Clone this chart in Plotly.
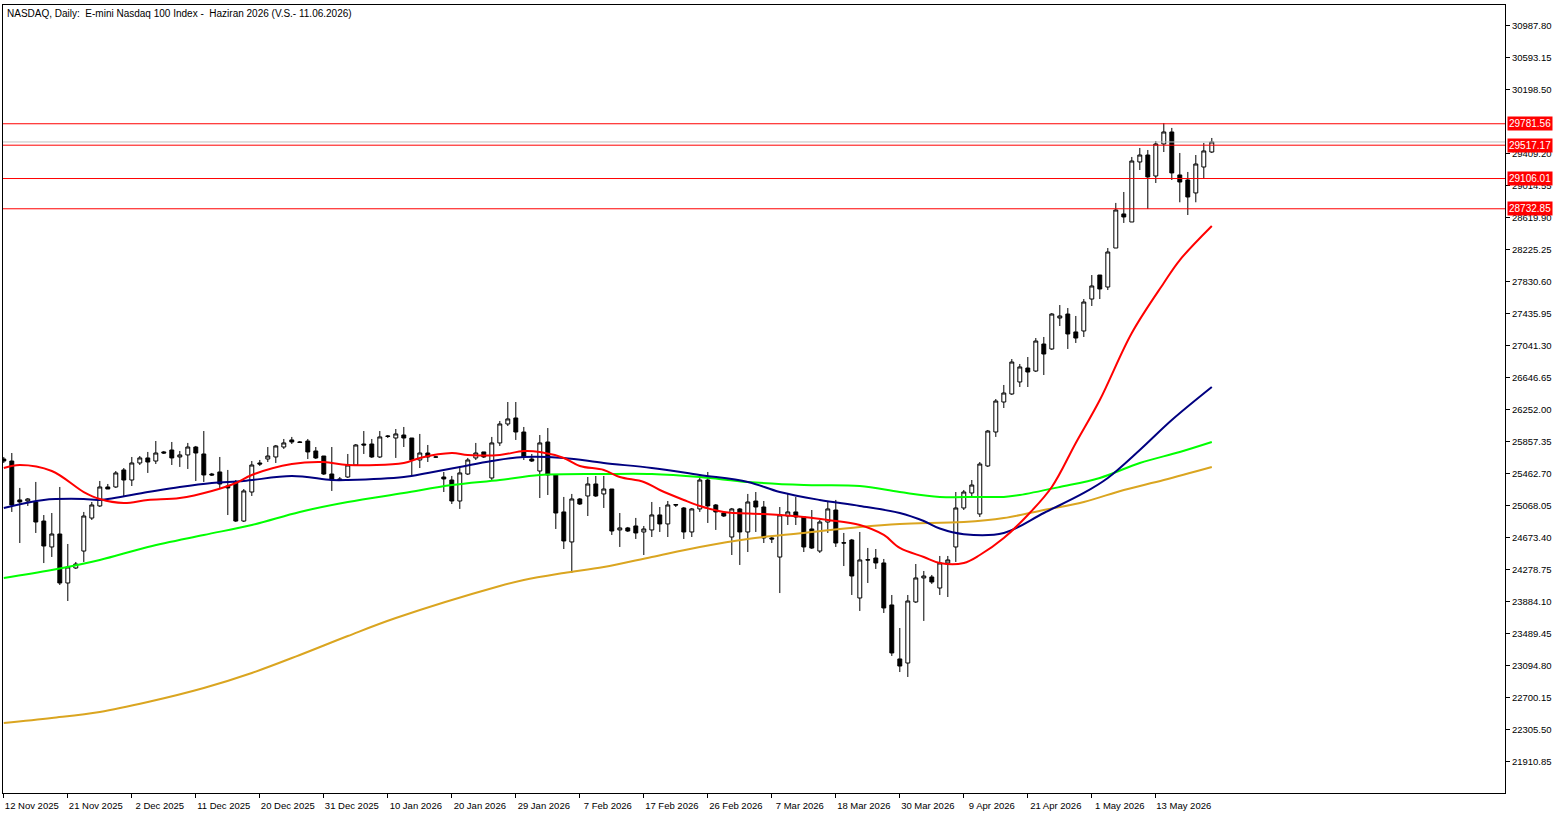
import plotly.graph_objects as go

TITLE = "NASDAQ, Daily:  E-mini Nasdaq 100 Index -  Haziran 2026 (V.S.- 11.06.2026)"

# daily OHLC, bar index 0 = 12 Nov 2025
opens = [25647, 25622, 25142, 25129, 25117, 24882, 24562, 24722, 24118, 24303,
         24512, 24919, 25068, 25302, 25302, 25512, 25388, 25598, 25660, 25622,
         25734, 25758, 25672, 25697, 25795, 25709, 25462, 25487, 25314, 25364,
         24882, 25240, 25598, 25647, 25672, 25795, 25882, 25857, 25869, 25746,
         25684, 25462, 25401, 25425, 25573, 25832, 25832, 25672, 25931, 25906,
         25943, 25906, 25635, 25721, 25670, 25425, 25388, 25129, 25462, 25660,
         25734, 25413, 25845, 26079, 26153, 25980, 25647, 25499, 25857, 25450,
         24994, 24624, 25154, 25191, 25339, 25216, 25277, 24772, 24797, 24821,
         24747, 24772, 24957, 24846, 25085, 25043, 24747, 25031, 25388, 25080,
         24981, 24685, 25031, 24747, 25129, 25055, 24673, 24438, 24944, 24994,
         24932, 24784, 24512, 24870, 25018, 24614, 24648, 23933, 24405, 24426,
         24365, 23847, 23181, 23131, 23884, 24180, 24192, 24056, 24365, 24562,
         25043, 25228, 24969, 25561, 25980, 26350, 26449, 26597, 26769, 26732,
         27065, 27004, 27386, 27435, 27214, 27226, 27620, 27916, 27768, 28249,
         28669, 28570, 29310, 29396, 29137, 29532, 29680, 29150, 29088, 28928,
         29248, 29433]
highs = [25672, 25721, 25290, 25166, 25364, 24956, 24981, 25302, 24599, 24377,
         24994, 25117, 25376, 25339, 25499, 25536, 25672, 25684, 25734, 25869,
         25746, 25857, 25746, 25845, 25808, 25992, 25475, 25672, 25512, 25388,
         25277, 25622, 25635, 25795, 25820, 25894, 25919, 25869, 25894, 25795,
         25684, 25795, 25425, 25709, 25832, 25992, 25894, 25992, 25943, 26017,
         26042, 25906, 25956, 25820, 25684, 25487, 25438, 25561, 25660, 25845,
         25734, 25919, 26116, 26350, 26350, 26042, 25709, 25943, 26029, 25450,
         25179, 25216, 25166, 25425, 25438, 25438, 25277, 24981, 24809, 24920,
         24821, 25117, 25055, 25129, 25092, 25055, 25043, 25413, 25487, 25092,
         24994, 25043, 25043, 25216, 25240, 25129, 24685, 25055, 25216, 25179,
         24932, 25018, 24895, 25117, 25142, 24735, 24661, 24747, 24550, 24537,
         24414, 23970, 23563, 23970, 24352, 24266, 24217, 24451, 24451, 25240,
         25265, 25388, 25610, 26005, 26387, 26560, 26880, 26819, 26905, 27139,
         27152, 27447, 27546, 27509, 27411, 27620, 27916, 27916, 28249, 28805,
         28940, 29372, 29483, 29458, 29569, 29790, 29730, 29421, 29187, 29396,
         29545, 29606]
lows = [25598, 24994, 24611, 25068, 24735, 24364, 24439, 24093, 23896, 24291,
        24377, 24895, 25055, 25277, 25290, 25191, 25314, 25573, 25475, 25585,
        25709, 25573, 25549, 25524, 25376, 25364, 25438, 25290, 24956, 24870,
        24870, 25191, 25561, 25610, 25598, 25771, 25832, 25845, 25647, 25647,
        25450, 25253, 25376, 25413, 25573, 25709, 25660, 25660, 25906, 25660,
        25795, 25438, 25536, 25610, 25660, 25240, 25092, 25031, 25450, 25635,
        25660, 25388, 25808, 26054, 25882, 25635, 25610, 25166, 25203, 24784,
        24537, 24241, 25080, 24944, 25179, 25043, 24710, 24562, 24747, 24661,
        24463, 24685, 24747, 24685, 25055, 24661, 24685, 24994, 24858, 24772,
        24932, 24463, 24340, 24500, 24747, 24611, 24611, 23994, 24833, 24833,
        24500, 24537, 24488, 24735, 24562, 24327, 23970, 23773, 24118, 24291,
        23748, 23218, 23020, 22959, 23872, 23650, 24106, 23970, 23945, 24377,
        25018, 25179, 24932, 25549, 25919, 26276, 26437, 26535, 26535, 26720,
        26683, 26992, 27287, 27004, 27078, 27152, 27534, 27620, 27731, 28249,
        28558, 28570, 29211, 28730, 29051, 29433, 29088, 28813, 28656, 28813,
        29101, 29421]
closes = [25622, 25080, 25117, 25154, 24870, 24574, 24722, 24118, 24315, 24352,
          24944, 25080, 25302, 25277, 25475, 25388, 25598, 25660, 25610, 25721,
          25721, 25660, 25697, 25795, 25721, 25450, 25450, 25339, 25290, 24882,
          25253, 25573, 25585, 25684, 25808, 25845, 25857, 25852, 25734, 25660,
          25462, 25388, 25388, 25573, 25820, 25820, 25672, 25919, 25926, 25956,
          25906, 25635, 25721, 25672, 25672, 25401, 25129, 25475, 25635, 25721,
          25672, 25845, 26079, 26141, 25980, 25672, 25622, 25845, 25450, 24981,
          24636, 25154, 25092, 25339, 25191, 25277, 24759, 24797, 24759, 24735,
          24784, 24957, 24846, 25080, 25080, 24747, 25031, 25388, 25068, 24994,
          24944, 25031, 24747, 25117, 25055, 24673, 24661, 24957, 24994, 24932,
          24562, 24549, 24870, 25031, 24611, 24611, 24204, 24402, 24402, 24365,
          23810, 23255, 23094, 23896, 24180, 24204, 24130, 24365, 24402, 25043,
          25240, 25326, 25585, 25992, 26362, 26461, 26843, 26782, 26720, 27102,
          26942, 27435, 27411, 27189, 27139, 27583, 27781, 27744, 28200, 28718,
          28632, 29322, 29396, 29125, 29532, 29680, 29175, 29063, 28878, 29285,
          29446, 29557]

date_labels = ["12 Nov 2025", "21 Nov 2025", "2 Dec 2025", "11 Dec 2025", "20 Dec 2025",
               "31 Dec 2025", "10 Jan 2026", "20 Jan 2026", "29 Jan 2026", "7 Feb 2026",
               "17 Feb 2026", "26 Feb 2026", "7 Mar 2026", "18 Mar 2026", "30 Mar 2026",
               "9 Apr 2026", "21 Apr 2026", "1 May 2026", "13 May 2026"]

# moving averages, read at sample bars
ma_red_x = [0, 2, 6, 10, 12, 15, 18, 22, 26, 29, 31, 36, 40, 43, 50, 52, 56, 58, 62, 65,
            67, 70, 72, 75, 77, 80, 82, 85, 87, 90, 95, 100, 103, 107, 110, 112, 115, 117,
            120, 122, 125, 128, 131, 134, 137, 141, 145, 147, 151]
ma_red_y = [25536, 25573, 25499, 25240, 25154, 25105, 25142, 25166, 25253, 25351, 25450,
            25585, 25610, 25573, 25598, 25660, 25721, 25697, 25697, 25746, 25734, 25660,
            25561, 25512, 25425, 25364, 25265, 25142, 25068, 24994, 24969, 24932, 24895,
            24833, 24710, 24550, 24439, 24365, 24365, 24463, 24673, 24957, 25302, 25845,
            26375, 27202, 27818, 28101, 28521]
ma_navy_x = [0, 5, 10, 12, 18, 22, 26, 30, 36, 41, 43, 50, 53, 57, 61, 65, 70, 75, 81, 87,
             93, 97, 102, 107, 112, 115, 117, 120, 125, 130, 135, 138, 142, 146, 151]
ma_navy_y = [25043, 25142, 25154, 25142, 25240, 25302, 25351, 25376, 25437, 25388, 25388,
             25425, 25475, 25549, 25622, 25672, 25660, 25598, 25536, 25450, 25364, 25240,
             25142, 25068, 24981, 24882, 24790, 24720, 24735, 24981, 25228, 25413, 25758,
             26128, 26535]
ma_green_x = [0, 6, 12, 18, 25, 31, 37, 43, 50, 56, 62, 67, 75, 81, 87, 93, 100, 107, 112,
              117, 122, 125, 127, 132, 137, 142, 147, 151]
ma_green_y = [24180, 24278, 24402, 24562, 24710, 24833, 24994, 25117, 25228, 25326, 25388,
              25450, 25462, 25462, 25425, 25364, 25326, 25314, 25240, 25179, 25179, 25179,
              25203, 25302, 25413, 25598, 25734, 25857]
ma_gold_x = [0, 6, 12, 18, 25, 31, 37, 43, 49, 62, 65, 70, 75, 81, 87, 93, 100, 107, 112,
             120, 125, 130, 135, 140, 145, 151]
ma_gold_y = [22391, 22453, 22527, 22650, 22823, 23008, 23230, 23464, 23686, 24081, 24155,
             24241, 24315, 24439, 24562, 24661, 24735, 24809, 24846, 24870, 24919, 25018,
             25117, 25265, 25388, 25549]

levels = [29781.56, 29517.17, 29106.01, 28732.85]
last_price = 29557

tick_step = 394.65
# 29803.85 sits under the 29781.56 label in the original, so it is left out
ytick_vals = [21910.85 + tick_step * k for k in range(24) if k != 20]

bars = list(range(len(closes)))

fig = go.Figure()
fig.add_trace(go.Candlestick(
    x=bars, open=opens, high=highs, low=lows, close=closes,
    increasing=dict(line=dict(color="black", width=1), fillcolor="white"),
    decreasing=dict(line=dict(color="black", width=1), fillcolor="black"),
    whiskerwidth=0, showlegend=False, hoverinfo="skip"))

for xs, ys, col in [(ma_gold_x, ma_gold_y, "#DAA520"), (ma_green_x, ma_green_y, "#00FF00"),
                    (ma_navy_x, ma_navy_y, "#000080"), (ma_red_x, ma_red_y, "#FF0000")]:
    fig.add_trace(go.Scatter(x=xs, y=ys, mode="lines", line=dict(color=col, width=2, shape="spline"),
                             showlegend=False, hoverinfo="skip"))

fig.add_hline(y=last_price, line=dict(color="#C0C0C0", width=1))
for lv in levels:
    fig.add_hline(y=lv, line=dict(color="red", width=1))
    fig.add_annotation(x=1, xref="paper", y=lv, yref="y", text=f"{lv:.2f}",
                       xanchor="left", showarrow=False, bgcolor="red", xshift=2,
                       font=dict(color="white", size=10, family="Liberation Sans"), borderpad=1)

fig.add_annotation(x=0, xref="paper", y=1, yref="paper", text=TITLE, xanchor="left",
                   yanchor="top", xshift=2, yshift=-1, showarrow=False,
                   font=dict(size=10, color="black", family="Liberation Sans"))

fig.update_layout(
    width=1563, height=815, margin=dict(l=3, r=58, t=5, b=22),
    paper_bgcolor="white", plot_bgcolor="white",
    font=dict(family="Liberation Sans", size=10, color="black"),
    xaxis=dict(range=[-0.1, 187.65], rangeslider=dict(visible=False), showgrid=False,
               zeroline=False, tickmode="array", tickvals=[8 * k for k in range(len(date_labels))],
               ticktext=date_labels, ticks="outside", ticklen=4, tickcolor="black",
               showline=True, linecolor="black", mirror=True, ticklabelshift=28,
               tickfont=dict(size=9.5), automargin=False),
    yaxis=dict(range=[21528, 31246], side="right", showgrid=False, zeroline=False,
               tickmode="array", tickvals=ytick_vals, ticktext=[f"{v:.2f}" for v in ytick_vals],
               ticks="outside", ticklen=4, tickcolor="black", showline=True,
               linecolor="black", mirror=True, tickfont=dict(size=9.5), automargin=False),
)

fig.write_html("out.html", config={"displayModeBar": False},
               post_script="document.body.style.margin='0';")
